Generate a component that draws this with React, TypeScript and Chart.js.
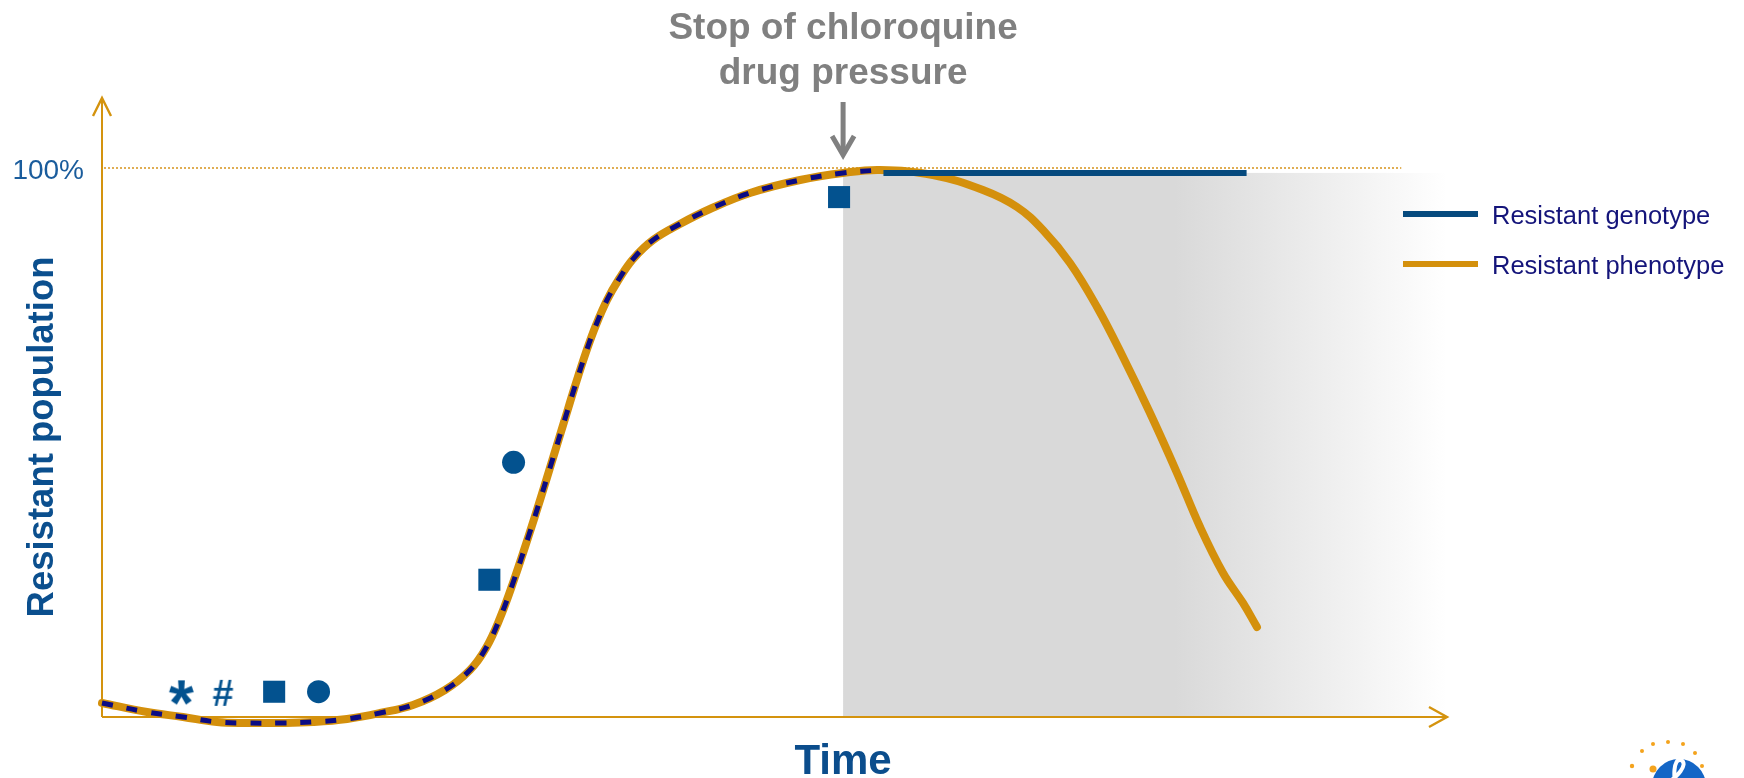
import React, { useEffect, useRef } from 'react';
import { Chart, registerables } from 'chart.js';

Chart.register(...registerables);

const FONT = '"Liberation Sans", Arial, Helvetica, sans-serif';

// Time runs 0..100 (arbitrary units); population in %
const phenotypeTime = [0, 3.35, 6.02, 8.55, 10.78, 13.23, 15.69, 18.22, 20.67, 23.12, 25.50, 27.36, 28.55, 29.59, 30.63, 31.67, 32.64, 33.53, 34.35, 35.17, 35.99, 36.73, 37.55, 38.44, 39.48, 40.97, 42.97, 45.20, 48.18, 51.90, 55.09, 57.84, 61.78, 65.50, 68.03, 69.96, 71.97, 73.98, 75.91, 77.92, 79.93, 81.64, 83.35, 84.83, 85.87];
const phenotypeValue = [2.55, 0.91, 0, -0.91, -1.09, -1.09, -0.91, -0.36, 0.73, 2.19, 4.92, 8.56, 12.57, 18.03, 24.95, 32.60, 40.07, 47.18, 53.73, 60.29, 66.48, 71.40, 75.96, 79.78, 83.42, 86.89, 89.80, 92.53, 95.45, 97.81, 99.09, 99.64, 98.72, 95.99, 92.90, 88.71, 82.70, 74.68, 65.57, 55.37, 44.44, 34.61, 26.23, 20.77, 16.39];

// genotype while under drug pressure (dashed, follows phenotype)
const genotypeTime = [0, 3.35, 6.02, 8.55, 10.78, 13.23, 15.69, 18.22, 20.67, 23.12, 25.50, 27.36, 28.55, 29.59, 30.63, 31.67, 32.64, 33.53, 34.35, 35.17, 35.99, 36.73, 37.55, 38.44, 39.48, 40.97, 42.97, 45.20, 48.18, 51.90, 55.09, 57.84];
const genotypeValue = [2.55, 0.91, 0, -0.91, -1.09, -1.09, -0.91, -0.36, 0.73, 2.19, 4.92, 8.56, 12.57, 18.03, 24.95, 32.60, 40.07, 47.18, 53.73, 60.29, 66.48, 71.40, 75.96, 79.78, 83.42, 86.89, 89.80, 92.53, 95.45, 97.81, 99.09, 99.64];

// genotype after stop of drug pressure (solid)
const genotypeAfterTime = [58.1, 85.1];
const genotypeAfterValue = [99.1, 99.1];

// observation markers
const markerTime = [5.9, 9.0, 12.8, 16.1, 28.8, 30.6, 54.8];
const markerValue = [4.4, 4.4, 4.6, 4.6, 25.0, 46.4, 94.7];
const markerSymbol = ['*', '#', 'square', 'circle', 'square', 'circle', 'square'];

const stopTime = 55.1;
const shadeEndTime = 100;
const shadeTopValue = 99.1;
const refLineValue = 100;
const refLineEndTime = 96.6;

const yTickValues = [100];
const yTickLabels = ['100%'];
const titleLines = ['Stop of chloroquine', 'drug pressure'];
const xTitle = 'Time';
const yTitle = 'Resistant population';
const legendLabels = ['Resistant genotype', 'Resistant phenotype'];

const GOLD = '#d4900c';
const AXIS = '#d4930e';
const GENO = '#064a7e';
const NAVY_DASH = '#0b0b84';
const MARK = '#03528f';

function glyphCanvas(ch: string, targetW: number, color: string): HTMLCanvasElement {
  const c = document.createElement('canvas');
  let cx = c.getContext('2d')!;
  cx.font = `bold 100px ${FONT}`;
  const m0 = cx.measureText(ch);
  const w0 = m0.actualBoundingBoxLeft + m0.actualBoundingBoxRight;
  const size = (100 * targetW) / w0;
  cx.font = `bold ${size}px ${FONT}`;
  const m = cx.measureText(ch);
  const w = m.actualBoundingBoxLeft + m.actualBoundingBoxRight;
  const h = m.actualBoundingBoxAscent + m.actualBoundingBoxDescent;
  c.width = Math.ceil(w) + 4;
  c.height = Math.ceil(h) + 4;
  cx = c.getContext('2d')!;
  cx.font = `bold ${size}px ${FONT}`;
  cx.fillStyle = color;
  cx.textAlign = 'left';
  cx.textBaseline = 'alphabetic';
  cx.fillText(ch, 2 + m.actualBoundingBoxLeft, 2 + m.actualBoundingBoxAscent);
  return c;
}

const decorPlugin = {
  id: 'decor',
  beforeDatasetsDraw(chart: any) {
    const { ctx, chartArea } = chart;
    const x = chart.scales.x;
    const y = chart.scales.y;
    const xs = x.getPixelForValue(stopTime);
    const xe = x.getPixelForValue(shadeEndTime);
    const yt = y.getPixelForValue(shadeTopValue);
    const y0 = y.getPixelForValue(0);
    const x0 = x.getPixelForValue(0);
    ctx.save();
    // shaded region after stop
    const g = ctx.createLinearGradient(xs, 0, xe, 0);
    g.addColorStop(0, '#d9d9d9');
    g.addColorStop(0.55, '#d9d9d9');
    g.addColorStop(1, '#ffffff');
    ctx.fillStyle = g;
    ctx.fillRect(xs, yt, xe - xs, y0 - yt);

    // dotted 100% reference line
    const yr = y.getPixelForValue(refLineValue);
    ctx.strokeStyle = '#d99a2a';
    ctx.lineWidth = 1.6;
    ctx.setLineDash([2, 2]);
    ctx.beginPath();
    ctx.moveTo(x0 + 2, yr);
    ctx.lineTo(x.getPixelForValue(refLineEndTime), yr);
    ctx.stroke();
    ctx.setLineDash([]);

    // axes with arrow heads
    ctx.strokeStyle = AXIS;
    ctx.lineWidth = 2;
    ctx.lineCap = 'butt';
    ctx.beginPath();
    ctx.moveTo(x0, y0);
    ctx.lineTo(x0, chartArea.top);
    ctx.moveTo(x0, y0);
    ctx.lineTo(xe, y0);
    ctx.stroke();
    ctx.lineWidth = 2.4;
    ctx.beginPath();
    ctx.moveTo(x0 - 9, chartArea.top + 18);
    ctx.lineTo(x0, chartArea.top);
    ctx.lineTo(x0 + 9, chartArea.top + 18);
    ctx.moveTo(xe - 18, y0 - 10);
    ctx.lineTo(xe, y0);
    ctx.lineTo(xe - 18, y0 + 10);
    ctx.stroke();
    ctx.restore();
  },
  afterDraw(chart: any) {
    const { ctx, chartArea } = chart;
    const x = chart.scales.x;
    const y = chart.scales.y;
    const xs = x.getPixelForValue(stopTime);
    ctx.save();

    // title
    ctx.fillStyle = '#808080';
    ctx.font = `bold 37px ${FONT}`;
    ctx.textAlign = 'center';
    ctx.textBaseline = 'alphabetic';
    ctx.fillText(titleLines[0], xs, 39);
    ctx.fillText(titleLines[1], xs, 84);

    // down arrow
    ctx.strokeStyle = '#808080';
    ctx.lineWidth = 5;
    ctx.lineCap = 'butt';
    ctx.beginPath();
    ctx.moveTo(xs, 102);
    ctx.lineTo(xs, 154);
    ctx.stroke();
    ctx.lineJoin = 'miter';
    ctx.beginPath();
    ctx.moveTo(xs - 11, 136);
    ctx.lineTo(xs, 155);
    ctx.lineTo(xs + 11, 136);
    ctx.stroke();

    // y tick label
    ctx.fillStyle = '#1a5c9c';
    ctx.font = `28px ${FONT}`;
    ctx.textAlign = 'right';
    yTickValues.forEach((v, i) => {
      ctx.fillText(yTickLabels[i], chartArea.left - 18, y.getPixelForValue(v) + 11);
    });

    // axis titles
    ctx.fillStyle = '#0b4d8c';
    ctx.font = `bold 42px ${FONT}`;
    ctx.textAlign = 'center';
    ctx.fillText(xTitle, xs, 774);

    ctx.save();
    ctx.translate(53, 437);
    ctx.rotate(-Math.PI / 2);
    ctx.font = `bold 36.5px ${FONT}`;
    ctx.fillStyle = '#0b4f8e';
    ctx.textAlign = 'center';
    ctx.fillText(yTitle, 0, 0);
    ctx.restore();

    // legend
    const legendColors = [GENO, GOLD];
    const lx = 1403;
    legendLabels.forEach((lab, i) => {
      const ly = 214 + i * 50;
      ctx.strokeStyle = legendColors[i];
      ctx.lineWidth = 6;
      ctx.beginPath();
      ctx.moveTo(lx, ly);
      ctx.lineTo(lx + 75, ly);
      ctx.stroke();
      ctx.fillStyle = '#14147a';
      ctx.font = `25.5px ${FONT}`;
      ctx.textAlign = 'left';
      ctx.fillText(lab, lx + 89, ly + 10);
    });

    // logo (partially visible in the corner)
    const W = chart.width;
    const H = chart.height;
    const lcx = W - 65;
    const lcy = H + 8;
    ctx.fillStyle = '#1466c6';
    ctx.beginPath();
    ctx.arc(lcx, lcy, 27, 0, Math.PI * 2);
    ctx.fill();
    ctx.strokeStyle = '#ffffff';
    ctx.lineWidth = 4;
    ctx.beginPath();
    ctx.moveTo(lcx - 14, lcy - 2);
    ctx.bezierCurveTo(lcx - 2, lcy - 8, lcx + 10, lcy - 22, lcx + 2, lcy - 26);
    ctx.bezierCurveTo(lcx - 6, lcy - 28, lcx - 6, lcy - 8, lcx - 2, lcy + 4);
    ctx.stroke();
    ctx.fillStyle = '#f4a31d';
    const dots = [[-47, -20, 2.2], [-37, -35, 2], [-26, -42, 2], [-11, -44, 2], [4, -42, 2], [16, -33, 2], [23, -20, 2]];
    dots.forEach(([dx, dy, r]) => {
      ctx.beginPath();
      ctx.arc(lcx + dx, lcy + dy, r, 0, Math.PI * 2);
      ctx.fill();
    });
    ctx.beginPath();
    ctx.arc(lcx - 26, lcy - 17, 3.5, 0, Math.PI * 2);
    ctx.fill();
    ctx.restore();
  },
};

export default function App() {
  const ref = useRef<HTMLCanvasElement | null>(null);
  useEffect(() => {
    document.body.style.margin = '0';
    const canvas = ref.current!;
    const star = glyphCanvas('*', 25, MARK);
    const hash = glyphCanvas('#', 20, MARK);
    const styles = markerSymbol.map((s) => (s === '*' ? star : s === '#' ? hash : s === 'square' ? 'rect' : 'circle'));
    const radii = markerSymbol.map((s) => (s === 'square' ? 15.6 : s === 'circle' ? 11.5 : 12));

    const chart = new Chart(canvas, {
      type: 'line',
      data: {
        datasets: [
          {
            label: 'markers',
            data: markerTime.map((t, i) => ({ x: t, y: markerValue[i] })),
            showLine: false,
            pointStyle: styles as any,
            pointRadius: radii,
            pointBackgroundColor: MARK,
            pointBorderColor: MARK,
            pointBorderWidth: 0,
            order: 0,
            clip: false as any,
          },
          {
            label: 'Resistant genotype (under pressure)',
            data: genotypeTime.map((t, i) => ({ x: t, y: genotypeValue[i] })),
            borderColor: NAVY_DASH,
            borderWidth: 5,
            borderDash: [11, 14],
            borderCapStyle: 'butt',
            tension: 0.4,
            pointRadius: 0,
            order: 1,
            clip: false as any,
          },
          {
            label: legendLabels[0],
            data: genotypeAfterTime.map((t, i) => ({ x: t, y: genotypeAfterValue[i] })),
            borderColor: GENO,
            borderWidth: 6,
            borderCapStyle: 'butt',
            pointRadius: 0,
            order: 2,
            clip: false as any,
          },
          {
            label: legendLabels[1],
            data: phenotypeTime.map((t, i) => ({ x: t, y: phenotypeValue[i] })),
            borderColor: GOLD,
            borderWidth: 8,
            borderCapStyle: 'round',
            borderJoinStyle: 'round',
            tension: 0.4,
            pointRadius: 0,
            order: 3,
            clip: false as any,
          },
        ],
      },
      options: {
        animation: false,
        responsive: false,
        maintainAspectRatio: false,
        layout: { padding: { left: 102, right: 297, top: 98, bottom: 38 } },
        scales: {
          x: { type: 'linear', min: 0, max: 100, display: false },
          y: { type: 'linear', min: -4.19, max: 112.75, display: false },
        },
        plugins: {
          legend: { display: false },
          tooltip: { enabled: false },
          title: { display: false },
        },
      },
      plugins: [decorPlugin],
    });
    return () => chart.destroy();
  }, []);

  return (
    <div style={{ position: 'absolute', left: 0, top: 0, width: 1744, height: 778, background: '#ffffff' }}>
      <canvas ref={ref} width={1744} height={778} style={{ display: 'block', width: 1744, height: 778 }} />
    </div>
  );
}
